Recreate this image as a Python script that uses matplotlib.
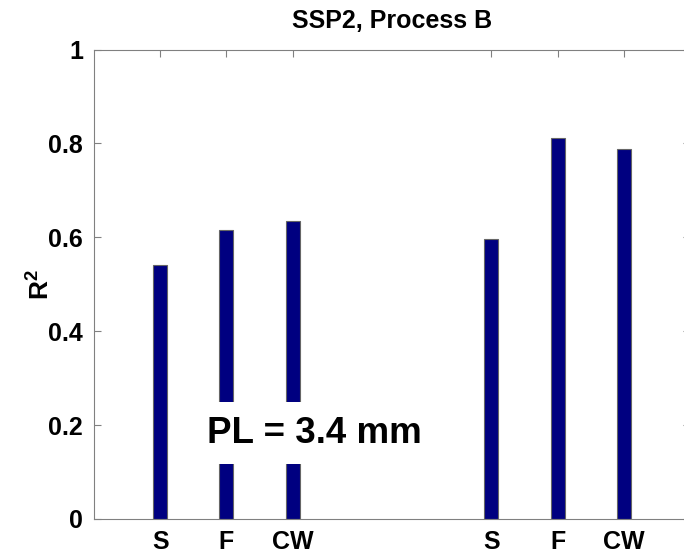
import matplotlib
matplotlib.use("Agg")
import matplotlib.pyplot as plt

categories = ["S", "F", "CW", "S", "F", "CW"]
positions = [1, 2, 3, 6, 7, 8]
r2_values = [0.540, 0.615, 0.635, 0.597, 0.812, 0.788]

plt.rcParams['font.family'] = ['Liberation Sans', 'DejaVu Sans']
plt.rcParams['font.weight'] = 'bold'
plt.rcParams['mathtext.fontset'] = 'custom'
plt.rcParams['mathtext.rm'] = 'Liberation Sans:bold'
plt.rcParams['mathtext.bf'] = 'Liberation Sans:bold'

fig = plt.figure(figsize=(6.84, 5.53), dpi=100)
ax = fig.add_axes([94/684, 34/553, (690-94)/684, (519-49.5)/553])

ax.bar(positions, r2_values, width=0.21, color='#000080', edgecolor='#666666', linewidth=0.8, zorder=2)

ax.set_xlim(0, 9)
ax.set_ylim(0, 1)
ax.set_xticks(positions)
ax.set_xticklabels(categories)
ax.set_yticks([0, 0.2, 0.4, 0.6, 0.8, 1.0])
ax.set_yticklabels(['0', '0.2', '0.4', '0.6', '0.8', '1'])
ax.tick_params(direction='in', length=5, width=0.8, color='#808080', labelsize=18,
               top=True, right=True, pad=8)
for lab in ax.get_xticklabels() + ax.get_yticklabels():
    lab.set_fontweight('bold')
for sp in ax.spines.values():
    sp.set_color('#808080')
    sp.set_linewidth(0.8)

ax.set_ylabel('R$^\\mathbf{2}$', fontsize=19, fontweight='bold', labelpad=-4)
ax.set_title('SSP2, Process B', fontsize=18, fontweight='bold', pad=15.5)

ax.text(3.33, 0.183, 'PL = 3.4 mm', fontsize=26.5, fontweight='bold', ha='center', va='center',
        bbox=dict(boxstyle='square,pad=0.36', facecolor='white', edgecolor='none'), zorder=5)

fig.savefig('out.png', dpi=100)
